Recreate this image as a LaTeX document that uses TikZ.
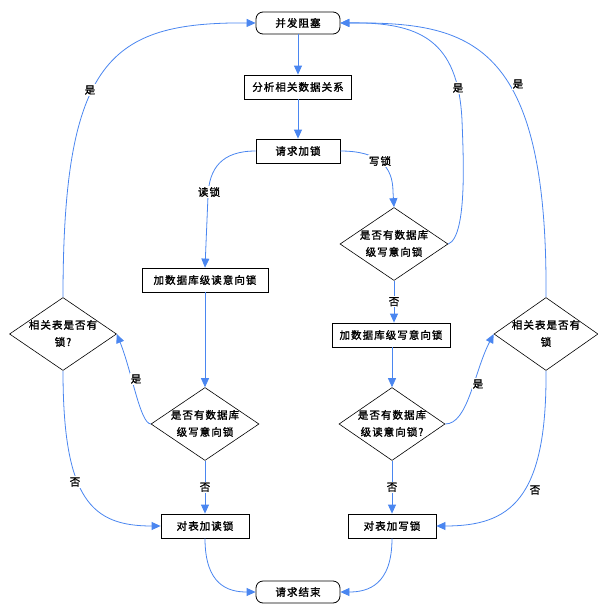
\documentclass[tikz,border=0pt]{standalone}
\usepackage{fontspec}
\newfontfamily\cjk[LetterSpace=10, FakeBold=1.6]{Noto Sans CJK SC}
\usetikzlibrary{arrows.meta,shapes.geometric}
\definecolor{lnblue}{HTML}{4A86F0}
\tikzset{
  txt/.style={font=\cjk\fontsize{10.5}{17}\selectfont},
  term/.style={txt, draw, rounded corners=7pt, minimum width=84pt, minimum height=22pt, inner sep=0pt, line width=0.8pt},
  procbox/.style={txt, draw, minimum height=24pt, inner sep=0pt, line width=0.8pt},
  decide/.style={txt, draw, diamond, minimum width=108pt, minimum height=73pt, inner sep=0pt, line width=0.6pt},
  flow/.style={draw=lnblue, line width=0.8pt, -{Triangle[length=9pt,width=8pt]}},
  lbl/.style={txt, fill=white, inner sep=1pt},
}
\newcommand{\dtext}[2]{\makebox[0pt]{\begin{tabular}{@{}c@{}}#1\\#2\end{tabular}}}
\begin{document}
\begin{tikzpicture}[x=1pt,y=-1pt]
\useasboundingbox (0,0) rectangle (597,605);
% nodes
\node[term] (start) at (298,23) {并发阻塞};
\node[procbox, minimum width=107pt] (analyze) at (298,87) {分析相关数据关系};
\node[procbox, minimum width=84pt] (req) at (298,151) {请求加锁};
\node[procbox, minimum width=126pt] (dbread) at (205,280) {加数据库级读意向锁};
\node[decide] (dl) at (205,424) {\dtext{是否有数据库}{级写意向锁}};
\node[procbox, minimum width=88pt] (tread) at (205,526) {对表加读锁};
\node[decide, minimum width=107pt] (sl) at (63,334) {\dtext{相关表是否有}{锁?}};
\node[decide] (dru) at (394,244) {\dtext{是否有数据库}{级写意向锁}};
\node[procbox, minimum width=118pt] (dbwrite) at (391,335) {加数据库级写意向锁};
\node[decide, minimum width=106pt] (drl) at (392,424) {\dtext{是否有数据库}{级读意向锁?}};
\node[procbox, minimum width=88pt] (twrite) at (392,526) {对表加写锁};
\node[decide, minimum width=104pt] (sr) at (546,334) {\dtext{相关表是否有}{锁}};
\node[term] (fin) at (298,592) {请求结束};
% straight connectors
\draw[flow] (start) -- (analyze);
\draw[flow] (analyze) -- (req);
\draw[flow] (dbread) -- (dl);
\draw[flow] (dl) -- node[lbl] {否} (tread);
\draw[flow] (dru.south) -- node[lbl] {否} (dbwrite.north -| dru.south);
\draw[flow] (dbwrite.south -| drl.north) -- (drl.north);
\draw[flow] (drl) -- node[lbl] {否} (twrite);
% read lock branch
\draw[flow] (req.west) .. controls (222,151) and (209,168) .. (208,196) -- (dbread.north);
\node[lbl] (rl) at (209,192) {读锁};
% write lock branch
\draw[flow] (req.east) .. controls (378,151) and (393,166) .. (393,192) -- (dru.north);
\node[lbl] (wl) at (380,161) {写锁};
% left diamond yes -> side diamond
\draw[flow] (dl.west) .. controls (140,423) and (132,372) .. (sl.east);
\node[lbl] (y1) at (136,379) {是};
% side left yes -> start
\draw[flow] (sl.north) .. controls (63,60) and (110,22) .. (start.west);
\node[lbl] (y2) at (90,90) {是};
% side left no -> read table
\draw[flow] (sl.south) .. controls (63,500) and (92,526) .. (tread.west);
\node[lbl] (n1) at (75,482) {否};
% right upper diamond yes -> start
\draw[flow] (dru.east) .. controls (468,236) and (463,150) .. (462,120) .. controls (458,40) and (420,22) .. (start.east);
\node[lbl] (y3) at (458,88) {是};
% right side yes -> start
\draw[flow] (sr.north) .. controls (548,40) and (470,22) .. (start.east);
\node[lbl] (y4) at (518,84) {是};
% right lower diamond yes -> side right
\draw[flow] (drl.east) .. controls (468,424) and (474,372) .. (sr.west);
\node[lbl] (y5) at (478,384) {是};
% right side no -> write table
\draw[flow] (sr.south) .. controls (547,500) and (510,526) .. (twrite.east);
\node[lbl] (n2) at (535,490) {否};
% tables -> end
\draw[flow] (tread.south) .. controls (205,585) and (228,592) .. (fin.west);
\draw[flow] (twrite.south) .. controls (392,585) and (368,592) .. (fin.east);
\end{tikzpicture}
\end{document}
